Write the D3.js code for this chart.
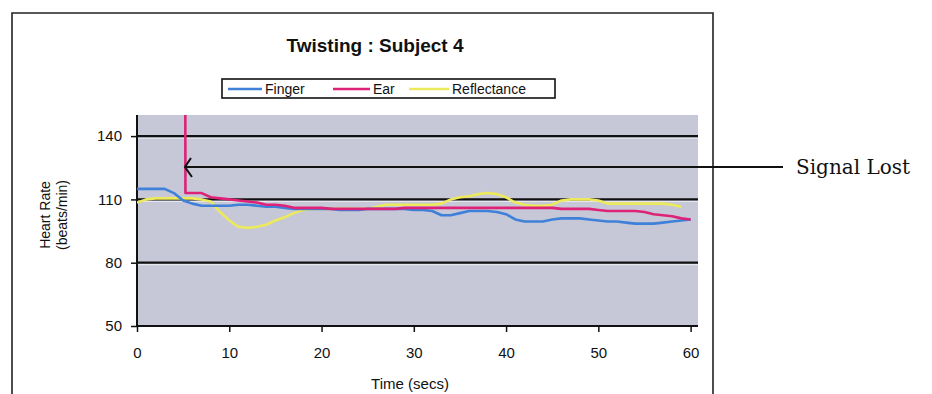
<!DOCTYPE html>
<html>
<head>
<meta charset="utf-8">
<script src="https://cdn.jsdelivr.net/npm/d3@7"></script>
<style>
  body { margin: 0; background: #fff; }
  svg { display: block; }
</style>
</head>
<body>
<svg id="chart" width="932" height="394"></svg>
<script>
// time axis, one reading per second
const seconds = d3.range(0, 61);

// heart rate readings (beats/min), null where no reading
const finger = [115, 115, 115, 115, 113, 109.5, 108, 107, 107, 107,
  107, 107.5, 107.5, 107, 106.5, 106.5, 106, 105.5, 105.5, 105.5,
  105.5, 105.5, 105, 105, 105, 105.5, 105.5, 105.5, 105.5, 105.5,
  105, 105, 104.5, 102.5, 102.5, 103.5, 104.5, 104.5, 104.5, 104,
  103, 100.5, 99.5, 99.5, 99.5, 100.5, 101, 101, 101, 100.5,
  100, 99.5, 99.5, 99, 98.5, 98.5, 98.5, 99, 99.5, 100, 100.5];

const reflectance = [108.5, 110, 110.5, 110.5, 110.5, 110.5, 110.5, 110, 109, 104,
  100, 97, 96.5, 97, 98, 100, 101.5, 103.5, 105, 105.5,
  105.5, 105.5, 105.5, 105.5, 105.5, 105.5, 106.5, 107.5, 107.5, 107.5,
  107.5, 107.5, 107.5, 108, 110, 111, 111.5, 112.5, 113, 112.5,
  111, 108.5, 107.5, 107, 107, 107.5, 109.5, 110, 110, 110,
  109.5, 108, 108, 108, 108, 108, 108, 108, 107.5, 106.5, null];

// the ear probe only starts reading after the signal-lost spike at ~5 s
const earSeconds = [5.2, 5.25].concat(d3.range(6, 61));
const ear = [255, 113, 113, 113, 111, 110.5,
  110, 109.5, 109, 108.5, 107.5, 107.5, 107, 106, 106, 106,
  106, 105.5, 105.5, 105.5, 105.5, 105.5, 105.5, 105.5, 105.5, 106,
  106, 106, 106, 106, 106, 106, 106, 106, 106, 106,
  106, 106, 106, 106, 106, 106, 105.5, 105.5, 105.5, 105.5,
  105, 104.5, 104.5, 104.5, 104.5, 104, 103, 102.5, 102, 101, 100.5];

const seriesNames = ["Finger", "Ear", "Reflectance"];
const seriesColors = ["#3f80d8", "#dd2277", "#ecea5c"];
const seriesTimes = [seconds, earSeconds, seconds];
const seriesValues = [finger, ear, reflectance];

const yTicks = [50, 80, 110, 140];
const xTicks = [0, 10, 20, 30, 40, 50, 60];
const chartTitle = "Twisting : Subject 4";
const note = "Signal Lost";

const svg = d3.select("#chart");
const sans = "'Liberation Sans', Arial, sans-serif";

// plot area
const plotL = 137, plotR = 698, plotT = 115, plotB = 326;
const x = d3.scaleLinear().domain([0, 60.8]).range([plotL, plotR]);
const y = d3.scaleLinear().domain([50, 150]).range([plotB, plotT]);

// outer chart border (runs off the bottom of the picture)
svg.append("path")
  .attr("d", `M12,400 V13 H713 V400`)
  .attr("fill", "none")
  .attr("stroke", "#222")
  .attr("stroke-width", 1.6);

svg.append("text")
  .attr("x", 375).attr("y", 52)
  .attr("text-anchor", "middle")
  .attr("font-family", sans)
  .attr("font-weight", "bold")
  .attr("font-size", 19)
  .attr("fill", "#111")
  .text(chartTitle);

svg.append("rect")
  .attr("x", plotL).attr("y", plotT)
  .attr("width", plotR - plotL).attr("height", plotB - plotT)
  .attr("fill", "#c6c8d8");

// gridlines (black with the faint light edge the scan shows under them)
const grid = svg.append("g");
grid.selectAll("line.hi")
  .data(yTicks.filter(d => d > 50))
  .join("line")
    .attr("class", "hi")
    .attr("x1", plotL).attr("x2", plotR)
    .attr("y1", d => y(d) + 2).attr("y2", d => y(d) + 2)
    .attr("stroke", "#e6e7ef")
    .attr("stroke-width", 1.2);
grid.selectAll("line.major")
  .data(yTicks.filter(d => d > 50))
  .join("line")
    .attr("class", "major")
    .attr("x1", plotL).attr("x2", plotR)
    .attr("y1", d => y(d)).attr("y2", d => y(d))
    .attr("stroke", "#111")
    .attr("stroke-width", 2.2);

// axes
const yAxis = svg.append("g")
  .attr("transform", `translate(${plotL},0)`)
  .call(d3.axisLeft(y).tickValues(yTicks).tickSize(6).tickPadding(9));
const xAxis = svg.append("g")
  .attr("transform", `translate(0,${plotB})`)
  .call(d3.axisBottom(x).tickValues(xTicks).tickSize(6).tickPadding(15));
[yAxis, xAxis].forEach(g => {
  g.select(".domain").attr("stroke", "#111").attr("stroke-width", 2);
  g.selectAll(".tick line").attr("stroke", "#111").attr("stroke-width", 1.5);
  g.selectAll("text")
    .attr("font-family", sans)
    .attr("font-size", 15)
    .attr("fill", "#111");
});
xAxis.select(".domain").attr("d", `M${plotL},0H${plotR}`);
yAxis.select(".domain").attr("d", `M0,${plotB}V${plotT}`);

// axis titles
svg.append("text")
  .attr("x", 410).attr("y", 389)
  .attr("text-anchor", "middle")
  .attr("font-family", sans).attr("font-size", 15).attr("fill", "#111")
  .text("Time (secs)");
const yTitle = svg.append("text")
  .attr("transform", "translate(0,215) rotate(-90)")
  .attr("text-anchor", "middle")
  .attr("font-family", sans).attr("font-size", 14).attr("fill", "#111");
yTitle.append("tspan").attr("x", 0).attr("y", 50).text("Heart Rate");
yTitle.append("tspan").attr("x", 0).attr("y", 67).text("(beats/min)");

// data lines
svg.append("clipPath").attr("id", "plotClip")
  .append("rect")
  .attr("x", plotL).attr("y", plotT)
  .attr("width", plotR - plotL).attr("height", plotB - plotT);

const line = d3.line()
  .defined(d => d[1] != null)
  .x(d => x(d[0]))
  .y(d => y(d[1]));

const lines = svg.append("g").attr("clip-path", "url(#plotClip)");
// draw reflectance first, then finger, then ear on top
[2, 0, 1].forEach(i => {
  lines.append("path")
    .datum(seriesTimes[i].map((t, j) => [t, seriesValues[i][j]]))
    .attr("d", line)
    .attr("fill", "none")
    .attr("stroke", seriesColors[i])
    .attr("stroke-width", 2.6)
    .attr("stroke-linejoin", "round");
});

// legend
const legend = svg.append("g");
legend.append("rect")
  .attr("x", 222).attr("y", 79)
  .attr("width", 333).attr("height", 19)
  .attr("fill", "#fff")
  .attr("stroke", "#111").attr("stroke-width", 1.6);
const legendX = [228, 333, 409];
const legendW = [34, 37, 40];
seriesNames.forEach((name, i) => {
  legend.append("line")
    .attr("x1", legendX[i]).attr("x2", legendX[i] + legendW[i])
    .attr("y1", 89).attr("y2", 89)
    .attr("stroke", seriesColors[i]).attr("stroke-width", 2.4);
  legend.append("text")
    .attr("x", legendX[i] + legendW[i] + 3).attr("y", 94)
    .attr("font-family", sans).attr("font-size", 14).attr("fill", "#111")
    .text(name);
});

// "Signal Lost" annotation with arrow pointing at the ear spike
const noteY = 167;
const tipX = x(5.2);
svg.append("line")
  .attr("x1", tipX).attr("x2", 783)
  .attr("y1", noteY).attr("y2", noteY)
  .attr("stroke", "#111").attr("stroke-width", 2);
svg.append("path")
  .attr("d", `M${tipX + 6},${noteY - 9} L${tipX},${noteY} L${tipX + 7},${noteY + 10}`)
  .attr("fill", "none")
  .attr("stroke", "#111").attr("stroke-width", 2);
svg.append("text")
  .attr("x", 796).attr("y", noteY + 7)
  .attr("font-family", "'DejaVu Serif', 'Liberation Serif', serif")
  .attr("font-size", 20)
  .attr("fill", "#111")
  .text(note);
</script>
</body>
</html>
